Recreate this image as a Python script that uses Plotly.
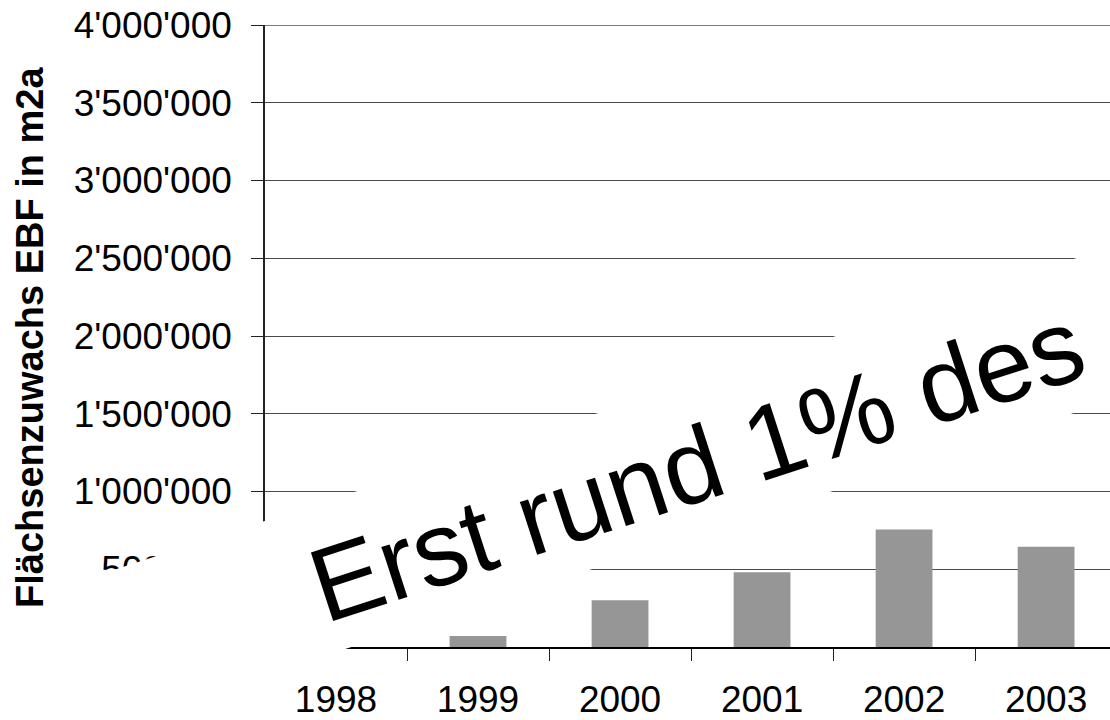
import math
import plotly.graph_objects as go

# Annual floor-area growth (EBF), m2a
years = ["1998", "1999", "2000", "2001", "2002", "2003"]
growth_m2a = [0, 70000, 300000, 480000, 755000, 645000]

y_tickvals = [0, 500000, 1000000, 1500000, 2000000, 2500000, 3000000, 3500000, 4000000]
y_ticktext = ["0", "500'000", "1'000'000", "1'500'000", "2'000'000",
              "2'500'000", "3'000'000", "3'500'000", "4'000'000"]

y_title = "Flächsenzuwachs EBF in m2a"
headline = "Erst rund 1% des"

W, H = 1110, 720
M_L, M_R, M_T, M_B = 265, 0, 25, 71
PLOT_W = W - M_L - M_R
PLOT_H = H - M_T - M_B
FONT = "Arial, Liberation Sans, sans-serif"


def to_paper(px, py):
    """Pixel position on the page -> paper coordinates."""
    return (px - M_L) / PLOT_W, (H - M_B - py) / PLOT_H


# white tilted band behind the headline
tilt = math.radians(18.0)
ux, uy = math.cos(tilt), -math.sin(tilt)      # along the band
nx, ny = math.sin(tilt), math.cos(tilt)       # across the band
band_origin = (85.0, 581.0)
band_len, band_thick = 1300.0, 147.0
corners = [
    band_origin,
    (band_origin[0] + ux * band_len, band_origin[1] + uy * band_len),
    (band_origin[0] + ux * band_len + nx * band_thick,
     band_origin[1] + uy * band_len + ny * band_thick),
    (band_origin[0] + nx * band_thick, band_origin[1] + ny * band_thick),
]
pts = [to_paper(*c) for c in corners]
band_path = "M " + " L ".join(f"{x:.4f},{y:.4f}" for x, y in pts) + " Z"

fig = go.Figure(
    go.Bar(x=years, y=growth_m2a, marker=dict(color="#969696", line=dict(width=0)))
)

fig.update_layout(
    width=W, height=H,
    margin=dict(l=M_L, r=M_R, t=M_T, b=M_B, pad=0),
    paper_bgcolor="white", plot_bgcolor="white",
    showlegend=False,
    bargap=0.6,
    font=dict(family=FONT, color="black"),
    shapes=[
        # top gridline (plotly drops grid lines that sit on the range edge)
        dict(type="line", xref="paper", yref="y", x0=0, x1=1,
             y0=y_tickvals[-1], y1=y_tickvals[-1],
             line=dict(color="#7a7a7a", width=2), layer="below"),
        dict(type="path", path=band_path, xref="paper", yref="paper",
             fillcolor="white", line=dict(width=0), layer="above"),
    ],
    annotations=[
        dict(text=headline, xref="paper", yref="paper", x=0.511, y=0.2936,
             xanchor="center", yanchor="middle", textangle=-18, showarrow=False,
             font=dict(family=FONT, size=105, color="black")),
        dict(text=f"<b>{y_title}</b>", xref="paper", yref="paper",
             x=to_paper(30, 0)[0], y=to_paper(0, 339)[1],
             xanchor="center", yanchor="middle", textangle=-90, showarrow=False,
             font=dict(family=FONT, size=38, color="black")),
    ],
)

fig.update_xaxes(
    type="category", range=[-0.5, 5.45],
    showline=True, linecolor="black", linewidth=2,
    ticks="outside", tickson="boundaries", ticklen=12, tickcolor="#222", tickwidth=1,
    tickfont=dict(family=FONT, size=37, color="black"),
    ticklabelstandoff=19,
    showgrid=False, zeroline=False, fixedrange=True,
)

fig.update_yaxes(
    range=[0, 4000000],
    tickvals=y_tickvals, ticktext=y_ticktext,
    showline=True, linecolor="#222", linewidth=1.5,
    ticks="outside", ticklen=12, tickcolor="#222", tickwidth=1,
    tickfont=dict(family=FONT, size=37, color="black"),
    ticklabelstandoff=12,
    showgrid=True, gridcolor="#4a4a4a", gridwidth=1,
    zeroline=False, fixedrange=True,
)

fig.write_html("out.html")
